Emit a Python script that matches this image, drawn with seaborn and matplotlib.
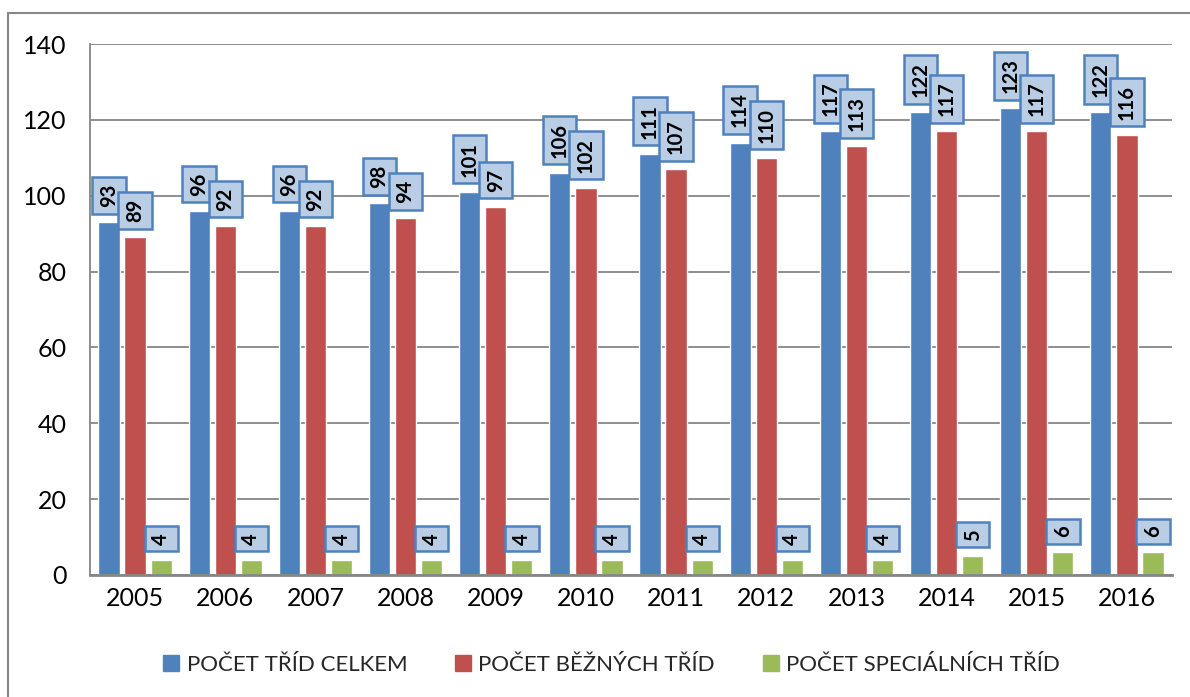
import matplotlib
matplotlib.use("Agg")
import matplotlib.pyplot as plt
import seaborn as sns
import pandas as pd
from matplotlib.lines import Line2D

years = ["2005", "2006", "2007", "2008", "2009", "2010", "2011", "2012", "2013", "2014", "2015", "2016"]
celkem = [93, 96, 96, 98, 101, 106, 111, 114, 117, 122, 123, 122]
bezne = [89, 92, 92, 94, 97, 102, 107, 110, 113, 117, 117, 116]
specialni = [4, 4, 4, 4, 4, 4, 4, 4, 4, 5, 6, 6]
series_names = ["POČET TŘÍD CELKEM", "POČET BĚŽNÝCH TŘÍD", "POČET SPECIÁLNÍCH TŘÍD"]
colors = ["#4F81BD", "#C0504D", "#9BBB59"]
yticks = [0, 20, 40, 60, 80, 100, 120, 140]

rows = []
for name, vals in zip(series_names, [celkem, bezne, specialni]):
    for y, v in zip(years, vals):
        rows.append({"rok": y, "serie": name, "hodnota": v})
df = pd.DataFrame(rows)

sns.set_theme(style="white")
plt.rcParams["font.family"] = ["Lato", "DejaVu Sans"]

fig = plt.figure(figsize=(11.9, 6.97), dpi=100)
ax = fig.add_axes([90 / 1190, 1 - 575 / 697, (1172 - 90) / 1190, (575 - 44) / 697])

sns.barplot(data=df, x="rok", y="hodnota", hue="serie", order=years,
            hue_order=series_names, palette=colors, width=0.87, gap=0.19,
            saturation=1, ax=ax, legend=False, errorbar=None)

ax.set_xlim(-0.5, len(years) - 0.5)
ax.set_ylim(0, 140)
ax.set_yticks(yticks)
ax.set_yticklabels([str(t) for t in yticks])
ax.set_xlabel("")
ax.set_ylabel("")
ax.yaxis.grid(True, color="#868686", linewidth=1.3)
ax.set_axisbelow(True)
for s in ["top", "right"]:
    ax.spines[s].set_visible(False)
ax.spines["left"].set_color("#868686")
ax.spines["left"].set_linewidth(1.3)
ax.spines["bottom"].set_color("#868686")
ax.spines["bottom"].set_linewidth(2)
ax.tick_params(axis="both", length=0, labelsize=18, colors="black")
ax.tick_params(axis="x", pad=9)
ax.tick_params(axis="y", pad=17)

for container in ax.containers:
    for bar in container:
        h = bar.get_height()
        ax.annotate(f"{int(round(h))}", (bar.get_x() + bar.get_width() / 2, h),
                    xytext=(0, 11), textcoords="offset points",
                    rotation=90, ha="center", va="bottom",
                    fontsize=14.5, fontweight="bold", color="black",
                    bbox=dict(boxstyle="square,pad=0.33", fc="#B9CDE5", ec="#4F81BD", lw=1.8),
                    zorder=5)

handles = [Line2D([0], [0], marker="s", linestyle="none", markersize=11,
                  markerfacecolor=c, markeredgecolor=c) for c in colors]
fig.legend(handles, series_names, loc="center", bbox_to_anchor=(610 / 1190, 1 - 665 / 697),
           ncol=3, frameon=False, fontsize=16, handletextpad=0.2, columnspacing=2.0,
           handlelength=1.0)

fig.add_artist(Line2D([8 / 1190, 8 / 1190], [0, 1 - 13 / 697], transform=fig.transFigure,
                      color="#878787", linewidth=1.5))
fig.add_artist(Line2D([8 / 1190, 1], [1 - 13 / 697, 1 - 13 / 697], transform=fig.transFigure,
                      color="#878787", linewidth=1.5))

fig.savefig("out.png", dpi=100)
